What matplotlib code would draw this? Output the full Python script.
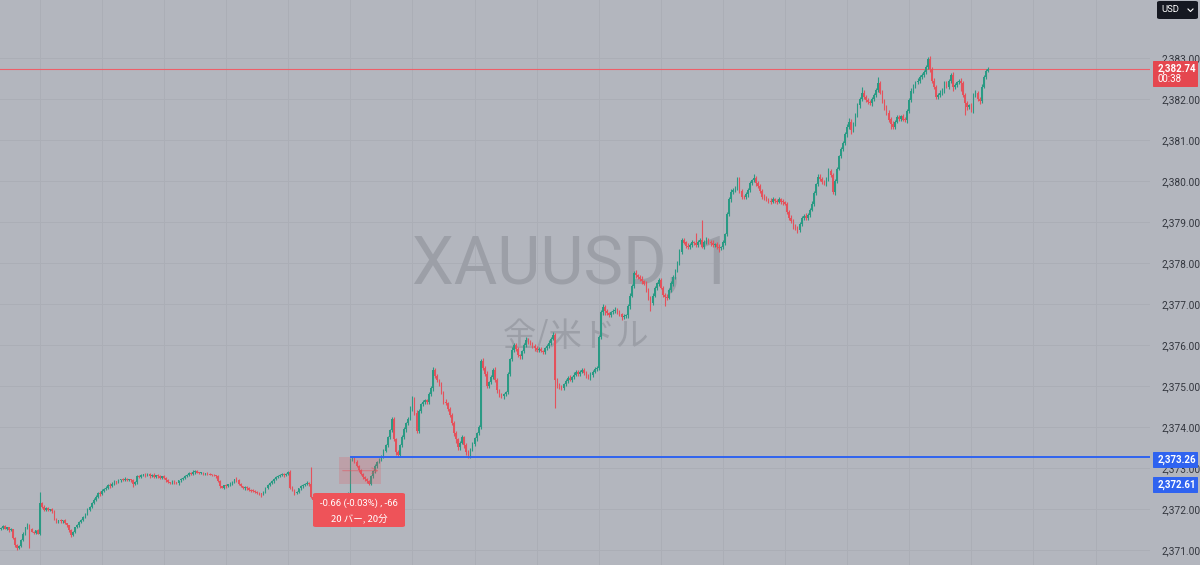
import matplotlib
matplotlib.use("Agg")
import matplotlib.pyplot as plt
import numpy as np
from matplotlib.patches import FancyBboxPatch, Rectangle
from matplotlib.lines import Line2D

# 1-minute XAUUSD closes, one row per 10 bars
closes = [
    2371.54, 2371.58, 2371.52, 2371.55, 2371.48, 2371.50, 2371.30, 2371.12, 2371.05, 2371.10,
    2371.24, 2371.40, 2371.55, 2371.62, 2371.50, 2371.45, 2371.42, 2371.48, 2371.40, 2372.15,
    2372.05, 2371.98, 2372.02, 2371.98, 2372.00, 2371.95, 2371.75, 2371.68, 2371.72, 2371.70,
    2371.72, 2371.65, 2371.60, 2371.48, 2371.37, 2371.45, 2371.55, 2371.60, 2371.68, 2371.72,
    2371.80, 2371.88, 2371.98, 2372.05, 2372.15, 2372.22, 2372.30, 2372.39, 2372.36, 2372.45,
    2372.48, 2372.52, 2372.59, 2372.55, 2372.62, 2372.68, 2372.66, 2372.70, 2372.72, 2372.70,
    2372.74, 2372.71, 2372.72, 2372.70, 2372.60, 2372.65, 2372.80, 2372.78, 2372.84, 2372.85,
    2372.82, 2372.86, 2372.80, 2372.84, 2372.78, 2372.82, 2372.80, 2372.76, 2372.80, 2372.75,
    2372.70, 2372.66, 2372.63, 2372.68, 2372.64, 2372.63, 2372.70, 2372.72, 2372.76, 2372.80,
    2372.84, 2372.88, 2372.86, 2372.90, 2372.92, 2372.89, 2372.88, 2372.88, 2372.86, 2372.87,
    2372.85, 2372.84, 2372.83, 2372.82, 2372.80, 2372.68, 2372.55, 2372.52, 2372.58, 2372.56,
    2372.60, 2372.62, 2372.66, 2372.72, 2372.70, 2372.62, 2372.56, 2372.52, 2372.54, 2372.50,
    2372.47, 2372.45, 2372.44, 2372.42, 2372.40, 2372.38, 2372.35, 2372.42, 2372.50, 2372.58,
    2372.64, 2372.68, 2372.74, 2372.78, 2372.80, 2372.82, 2372.85, 2372.83, 2372.86, 2372.90,
    2372.52, 2372.46, 2372.40, 2372.42, 2372.50, 2372.55, 2372.58, 2372.62, 2372.64, 2372.60,
    2372.30, 2372.22, 2372.25, 2372.18, 2372.15, 2372.22, 2372.20, 2372.24, 2372.16, 2372.10,
    2372.15, 2372.20, 2372.22, 2372.25, 2372.28, 2372.26, 2372.30, 2372.35, 2372.38, 2373.20,
    2373.26, 2373.15, 2373.05, 2372.95, 2372.85, 2372.78, 2372.72, 2372.68, 2372.61, 2372.80,
    2372.92, 2373.05, 2373.15, 2373.22, 2373.27, 2373.42, 2373.56, 2373.75, 2373.93, 2374.20,
    2373.70, 2373.40, 2373.32, 2373.55, 2373.75, 2373.95, 2374.10, 2374.20, 2374.45, 2374.70,
    2374.35, 2373.90, 2374.40, 2374.55, 2374.60, 2374.65, 2374.62, 2374.80, 2374.95, 2375.40,
    2375.25, 2375.15, 2375.05, 2374.85, 2374.62, 2374.58, 2374.45, 2374.30, 2374.10, 2373.85,
    2373.70, 2373.50, 2373.62, 2373.75, 2373.55, 2373.40, 2373.30, 2373.45, 2373.58, 2373.72,
    2373.85, 2374.00, 2375.60, 2375.45, 2375.30, 2375.00, 2375.10, 2375.22, 2375.40, 2375.15,
    2374.90, 2374.78, 2374.75, 2374.80, 2374.85, 2375.30, 2375.65, 2375.88, 2376.00, 2375.90,
    2375.75, 2375.72, 2375.85, 2376.00, 2376.12, 2376.08, 2376.05, 2375.98, 2375.92, 2375.88,
    2375.90, 2375.86, 2375.84, 2375.92, 2375.98, 2376.05, 2376.15, 2376.25, 2375.15, 2375.02,
    2374.98, 2374.95, 2375.05, 2375.12, 2375.20, 2375.15, 2375.22, 2375.28, 2375.35, 2375.30,
    2375.35, 2375.40, 2375.32, 2375.25, 2375.20, 2375.28, 2375.35, 2375.42, 2375.45, 2376.20,
    2376.80, 2376.93, 2376.82, 2376.78, 2376.74, 2376.80, 2376.84, 2376.86, 2376.80, 2376.75,
    2376.68, 2376.70, 2376.72, 2376.95, 2377.20, 2377.45, 2377.76, 2377.70, 2377.66, 2377.62,
    2377.55, 2377.50, 2377.35, 2377.15, 2377.02, 2377.20, 2377.40, 2377.50, 2377.58, 2377.40,
    2377.22, 2377.18, 2377.15, 2377.35, 2377.50, 2377.65, 2377.82, 2378.00, 2378.28, 2378.56,
    2378.50, 2378.42, 2378.38, 2378.45, 2378.50, 2378.48, 2378.44, 2378.52, 2378.55, 2378.40,
    2378.52, 2378.58, 2378.50, 2378.48, 2378.44, 2378.46, 2378.40, 2378.36, 2378.38, 2378.50,
    2378.70, 2379.20, 2379.55, 2379.72, 2379.78, 2379.82, 2380.05, 2379.75, 2379.62, 2379.60,
    2379.68, 2379.78, 2379.95, 2380.02, 2380.08, 2379.95, 2379.88, 2379.75, 2379.62, 2379.58,
    2379.55, 2379.52, 2379.50, 2379.55, 2379.52, 2379.50, 2379.55, 2379.50, 2379.48, 2379.45,
    2379.25, 2379.10, 2379.02, 2378.92, 2378.85, 2378.80, 2378.95, 2379.10, 2379.15, 2379.10,
    2379.18, 2379.30, 2379.45, 2379.70, 2379.92, 2380.10, 2380.05, 2379.98, 2379.95, 2380.05,
    2380.25, 2380.15, 2379.72, 2380.00, 2380.30, 2380.60, 2380.78, 2380.92, 2381.15, 2381.32,
    2381.45, 2381.25, 2381.38, 2381.62, 2381.85, 2382.00, 2382.15, 2382.05, 2381.98, 2381.92,
    2381.90, 2382.00, 2382.10, 2382.22, 2382.40, 2382.15, 2381.95, 2381.80, 2381.66, 2381.50,
    2381.40, 2381.32, 2381.45, 2381.56, 2381.52, 2381.58, 2381.50, 2381.48, 2381.70, 2381.98,
    2382.20, 2382.32, 2382.41, 2382.45, 2382.54, 2382.58, 2382.66, 2382.78, 2382.98, 2382.72,
    2382.45, 2382.29, 2382.05, 2382.10, 2382.15, 2382.22, 2382.39, 2382.30, 2382.45, 2382.59,
    2382.29, 2382.35, 2382.41, 2382.45, 2382.40, 2382.10, 2381.90, 2381.80, 2381.85, 2381.73,
    2382.10, 2382.15, 2382.00, 2381.95, 2382.30, 2382.54, 2382.68, 2382.74,
]
first_open = 2371.50

# upper / lower wick length beyond the body, in cents
wick_hi = [
    3, 2, 4, 1, 2, 3, 2, 1, 2, 3,   2, 3, 1, 4, 2, 3, 2, 1, 3, 26,
    3, 4, 2, 3, 1, 2, 3, 2, 1, 4,   2, 3, 1, 2, 3, 1, 2, 4, 2, 3,
    3, 2, 4, 3, 2, 5, 3, 2, 4, 3,   2, 3, 2, 4, 3, 2, 1, 3, 2, 4,
    3, 2, 1, 2, 3, 4, 2, 3, 2, 1,   2, 3, 2, 1, 3, 2, 4, 2, 1, 2,
    3, 2, 1, 2, 3, 2, 1, 3, 2, 4,   2, 3, 2, 4, 3, 2, 1, 2, 3, 2,
    3, 2, 1, 3, 2, 4, 3, 2, 1, 3,   2, 4, 3, 2, 5, 3, 2, 1, 3, 2,
    3, 2, 4, 2, 3, 1, 2, 3, 4, 2,   3, 2, 1, 3, 2, 4, 2, 3, 2, 3,
    4, 3, 2, 3, 2, 4, 3, 2, 5, 3,   42, 4, 3, 2, 5, 3, 2, 4, 3, 2,
    3, 2, 4, 3, 2, 3, 4, 2, 3, 4,   3, 2, 4, 3, 2, 3, 2, 4, 3, 2,
    3, 4, 2, 3, 4, 5, 3, 4, 3, 4,   5, 3, 4, 3, 5, 4, 3, 4, 6, 5,
    4, 6, 3, 4, 5, 3, 4, 5, 4, 6,   5, 4, 3, 5, 4, 6, 3, 4, 5, 4,
    5, 3, 4, 6, 3, 5, 4, 3, 5, 4,   3, 4, 5, 8, 4, 6, 3, 5, 4, 6,
    4, 3, 5, 4, 3, 5, 4, 6, 5, 4,   5, 4, 3, 6, 8, 4, 5, 3, 4, 5,
    4, 5, 3, 4, 5, 6, 4, 7, 5, 4,   5, 4, 3, 5, 4, 6, 3, 5, 4, 5,
    4, 5, 3, 4, 5, 6, 4, 5, 3, 5,   5, 6, 4, 5, 3, 4, 5, 6, 4, 5,
    4, 5, 3, 5, 6, 4, 5, 8, 4, 5,   6, 4, 5, 3, 4, 6, 5, 4, 5, 6,
    4, 5, 6, 4, 5, 6, 4, 5, 6, 5,   6, 4, 8, 5, 6, 4, 25, 5, 6, 50,
    5, 6, 4, 5, 7, 4, 5, 6, 4, 5,   4, 5, 6, 8, 5, 6, 4, 5, 6, 5,
    4, 6, 5, 4, 10, 5, 6, 4, 5, 6,  5, 4, 6, 5, 4, 5, 6, 4, 5, 4,
    5, 4, 6, 5, 4, 5, 6, 4, 5, 6,   5, 4, 6, 5, 4, 8, 6, 5, 4, 5,
    6, 5, 4, 6, 5, 4, 6, 5, 4, 6,   8, 6, 5, 4, 6, 5, 14, 6, 5, 4,
    6, 5, 4, 6, 14, 5, 6, 4, 5, 6,  5, 6, 4, 5, 6, 4, 5, 6, 5, 4,
    6, 5, 4, 6, 5, 6, 4, 5, 5, 6,   5, 6, 4, 5, 6, 5, 4, 6, 5, 4,
    6, 5, 4, 5, 6, 4, 5, 6, 4, 5,   5, 6, 4, 5, 6, 5, 4, 3,
]
wick_lo = [
    2, 3, 2, 4, 3, 2, 3, 4, 5, 2,   3, 2, 4, 3, 45, 2, 3, 4, 2, 3,
    2, 3, 4, 2, 3, 4, 2, 3, 2, 3,   3, 2, 4, 3, 5, 2, 3, 2, 4, 3,
    2, 3, 2, 4, 3, 2, 3, 2, 4, 3,   3, 2, 4, 3, 2, 3, 4, 2, 3, 2,
    2, 3, 2, 4, 6, 2, 3, 2, 3, 4,   3, 2, 4, 2, 3, 2, 4, 3, 2, 3,
    4, 2, 3, 2, 3, 2, 4, 3, 2, 3,   2, 3, 2, 3, 4, 2, 3, 2, 3, 2,
    3, 2, 3, 2, 4, 3, 5, 2, 3, 4,   2, 3, 4, 2, 3, 4, 2, 3, 5, 3,
    2, 4, 3, 2, 4, 3, 5, 2, 3, 2,   3, 2, 4, 3, 2, 3, 2, 4, 3, 2,
    4, 3, 6, 3, 2, 4, 3, 2, 3, 4,   4, 6, 3, 4, 5, 3, 4, 3, 5, 4,
    3, 4, 2, 3, 4, 3, 2, 4, 3, 4,   3, 4, 3, 4, 3, 4, 3, 4, 2, 3,
    4, 3, 4, 3, 4, 3, 4, 5, 4, 6,   5, 8, 6, 4, 5, 4, 6, 5, 4, 5,
    6, 5, 4, 6, 5, 4, 6, 5, 4, 6,   5, 6, 4, 5, 6, 4, 5, 6, 5, 6,
    8, 6, 5, 4, 6, 8, 6, 5, 4, 5,   6, 5, 4, 5, 6, 5, 4, 5, 6, 5,
    6, 5, 4, 6, 5, 4, 5, 4, 6, 5,   4, 6, 5, 4, 5, 6, 4, 5, 6, 4,
    5, 4, 6, 5, 4, 5, 6, 4, 69, 8,  6, 5, 4, 6, 5, 4, 6, 5, 4, 5,
    6, 4, 5, 6, 4, 5, 6, 4, 5, 6,   5, 6, 8, 4, 6, 5, 4, 6, 5, 4,
    6, 5, 4, 5, 6, 4, 5, 6, 4, 5,   6, 4, 5, 6, 20, 5, 4, 6, 5, 4,
    6, 22, 5, 4, 6, 5, 4, 5, 6, 5,  4, 6, 5, 4, 6, 5, 4, 6, 5, 4,
    6, 5, 4, 6, 5, 4, 6, 8, 5, 4,   5, 4, 6, 5, 4, 6, 5, 4, 6, 5,
    4, 6, 5, 4, 5, 6, 4, 5, 6, 5,   4, 5, 6, 4, 5, 6, 4, 5, 6, 4,
    5, 6, 4, 8, 5, 6, 4, 5, 6, 4,   6, 5, 4, 6, 5, 4, 6, 5, 4, 6,
    5, 6, 4, 5, 6, 4, 5, 6, 4, 8,   5, 10, 6, 4, 5, 6, 4, 5, 6, 4,
    5, 6, 4, 5, 6, 4, 5, 6, 4, 5,   12, 6, 5, 4, 6, 5, 4, 5, 6, 4,
    5, 6, 4, 5, 6, 4, 5, 6, 4, 5,   6, 5, 4, 5, 6, 5, 8, 4, 5, 6,
    10, 5, 6, 4, 20, 5, 30, 6, 4, 5,  6, 5, 4, 6, 5, 4, 5, 3,
]

price_ticks = [2371, 2372, 2373, 2374, 2375, 2376, 2377, 2378, 2379, 2380, 2381, 2382, 2383]
last_price = 2382.74
countdown = "00:38"
measure_start, measure_end = 2373.26, 2372.61
measure_bars = (164, 184)
hline_bar = 169
measure_text = ["-0.66 (-0.03%) , -66", "20 バー, 20分"]
symbol, symbol_desc = "XAUUSD, 1", "金/米ドル"

BG = "#b3b6be"
GRID = "#abaeb6"
UP, DOWN = "#2a9a84", "#e4525c"
BLUE = "#2f63f0"
TXT = "#33363e"

W, H = 1200, 565
PLOT_R = 1150


def fx(px):
    return px / W


def fy(py):
    return 1 - py / H


c = np.array(closes)
o = np.concatenate([[first_open], c[:-1]])
hi = np.maximum(o, c) + np.array(wick_hi) / 100
lo = np.minimum(o, c) - np.array(wick_lo) / 100
idx = np.arange(len(c))
col = np.where(c >= o, UP, DOWN)

fig = plt.figure(figsize=(12, 5.65), dpi=100, facecolor=BG)
ax = fig.add_axes([0, 0, PLOT_R / W, 1], facecolor=BG)

# bar i sits at pixel 0.5 + 2.07*i
step = 2.07
ax.set_xlim(-0.5 / step, (PLOT_R - 0.5) / step)
ax.set_ylim(2383 - (H - 58) / 41, 2383 + 58 / 41)

for p in price_ticks:
    ax.axhline(p, color=GRID, lw=0.7, zorder=0)
for b in range(19, 560, 30):
    ax.axvline(b, color=GRID, lw=0.7, zorder=0)

ax.text(
    (573 - 0.5) / step, 2383 - (266 - 58) / 41, symbol, fontsize=48, family="Roboto",
    color="#9c9fa7", ha="center", va="center", zorder=1,
)
ax.text(
    (576 - 0.5) / step, 2383 - (336 - 58) / 41, symbol_desc, fontsize=24,
    family=["Noto Sans CJK JP", "DejaVu Sans"], color="#9c9fa7", ha="center", va="center", zorder=1,
)

ax.axhline(last_price, color="#ee5f69", lw=0.8, zorder=2)

ax.vlines(idx, lo, hi, colors=col, lw=0.8, zorder=3)
body_h = np.maximum(np.abs(c - o), 0.02)
ax.bar(idx, body_h, bottom=np.minimum(o, c), width=0.78, color=col, linewidth=0, zorder=4)

# measurement tool
m0, m1 = measure_bars
ax.add_patch(Rectangle((m0 - 0.5, measure_end), m1 - m0 + 0.5, measure_start - measure_end,
                       facecolor=DOWN, alpha=0.22, lw=0, zorder=5))
mid = (measure_start + measure_end) / 2
ax.annotate("", xy=(m1, mid), xytext=(m0, mid),
            arrowprops=dict(arrowstyle="->", color=DOWN, lw=0.8, alpha=0.5), zorder=5)

ax.hlines(measure_start, hline_bar, (PLOT_R + 10) / step, color=BLUE, lw=1.4, zorder=6)

ax.yaxis.tick_right()
ax.set_yticks(price_ticks)
ax.set_yticklabels([f"{p:,.2f}" for p in price_ticks], fontsize=7.3, family="Roboto", color=TXT)
ax.tick_params(axis="y", length=0, pad=8)
ax.set_xticks([])
for s in ax.spines.values():
    s.set_visible(False)


def fig_box(x0, y0, x1, y1, color, rounding=2.0):
    box = FancyBboxPatch((fx(x0), fy(y1)), fx(x1) - fx(x0), fy(y0) - fy(y1),
                         boxstyle=f"round,pad=0,rounding_size={rounding / W}",
                         transform=fig.transFigure, facecolor=color, edgecolor="none", zorder=10)
    fig.add_artist(box)


# tooltip for the measurement
fig_box(313, 493, 405, 527, "#ee5359", rounding=3)
fig.text(fx(359), fy(503), measure_text[0], fontsize=6.8, color="white", ha="center", va="center",
         family=["Roboto", "Noto Sans CJK JP"], zorder=11)
fig.text(fx(359), fy(518), measure_text[1], fontsize=6.8, color="white", ha="center", va="center",
         family=["Noto Sans CJK JP", "DejaVu Sans"], zorder=11)

# right-hand price labels
fig_box(1153, 452, 1198, 468, BLUE, rounding=1)
fig.text(fx(1158), fy(460), f"{measure_start:,.2f}", fontsize=7, color="white", va="center",
         family="Roboto", weight="bold", zorder=11)
fig_box(1153, 477, 1198, 493, BLUE, rounding=1)
fig.text(fx(1158), fy(485), f"{measure_end:,.2f}", fontsize=7, color="white", va="center",
         family="Roboto", weight="bold", zorder=11)
fig_box(1153, 61, 1198, 87, "#e5474f", rounding=1)
fig.text(fx(1158), fy(68.5), f"{last_price:,.2f}", fontsize=7, color="white", va="center",
         family="Roboto", weight="bold", zorder=11)
fig.text(fx(1158), fy(79.5), countdown, fontsize=7, color="white", va="center",
         family="Roboto", zorder=11)

# currency button
fig_box(1157, 1, 1198, 19, "#151821", rounding=3)
fig.text(fx(1161), fy(10), "USD", fontsize=6.8, color="white", va="center", family="Roboto", zorder=11)
fig.add_artist(Line2D([fx(1188), fx(1190.5), fx(1193)], [fy(9), fy(11.5), fy(9)],
                      transform=fig.transFigure, color="white", lw=0.8, zorder=11))

fig.savefig("out.png", dpi=100, facecolor=BG)
